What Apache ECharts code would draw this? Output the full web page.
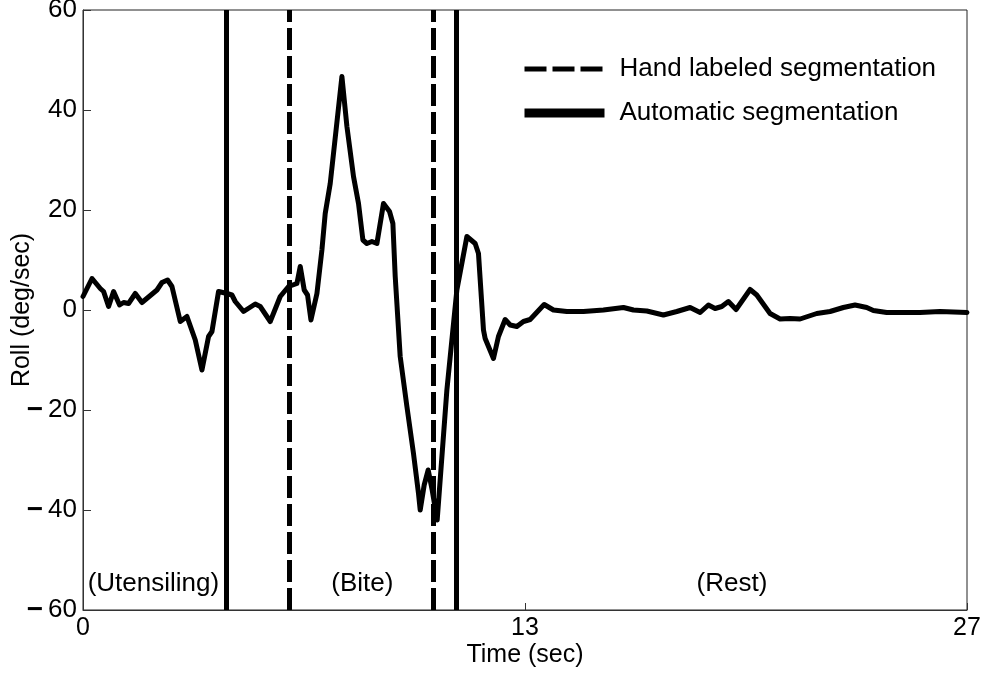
<!DOCTYPE html>
<html>
<head>
<meta charset="utf-8">
<script src="https://cdn.jsdelivr.net/npm/echarts@6/dist/echarts.min.js"></script>
<style>html,body{margin:0;padding:0;background:#fff}#c{width:989px;height:673px}</style>
</head>
<body>
<div id="c"></div>
<script>
// Time (sec) and Roll (deg/sec) samples
const timeSec = [0,0.275,0.528,0.629,0.782,0.934,1.117,1.24,1.392,1.597,1.801,2.259,2.412,2.583,2.717,2.971,3.175,3.429,3.633,3.835,3.939,4.14,4.397,4.549,4.65,4.904,5.261,5.413,5.719,6.024,6.278,6.534,6.635,6.757,6.858,6.962,7.145,7.297,7.398,7.551,7.908,8.061,8.262,8.415,8.549,8.671,8.824,8.977,9.178,9.362,9.465,9.536,9.688,9.893,10.094,10.247,10.299,10.421,10.543,10.665,10.818,11.114,11.419,11.725,11.978,12.079,12.232,12.283,12.537,12.689,12.894,13.047,13.251,13.453,13.657,14.085,14.369,14.778,15.285,15.896,16.506,16.812,17.221,17.728,18.137,18.543,18.849,19.101,19.306,19.51,19.712,19.947,20.375,20.579,20.985,21.291,21.596,21.901,22.411,22.817,23.223,23.58,23.938,24.139,24.548,25.565,26.176,27.0];
const rollDeg = [2.7,6.3,4.3,3.7,0.7,3.7,1.0,1.5,1.3,3.3,1.5,4.0,5.5,6.0,4.7,-2.3,-1.3,-6.0,-12.0,-5.3,-4.3,3.7,3.3,3.0,1.7,-0.3,1.2,0.7,-2.3,2.7,4.7,5.3,8.7,4.0,3.0,-2.0,3.3,12.0,19.3,25.3,46.7,36.7,26.7,21.3,14.0,13.3,13.7,13.3,21.3,19.7,17.3,6.7,-9.3,-19.3,-28.7,-36.7,-40,-35,-32,-36,-42,-16,4,14.7,13.3,11.3,-4,-5.7,-9.7,-5.3,-1.9,-3,-3.3,-2.3,-1.9,1.1,0,-0.3,-0.3,0,0.5,0,-0.2,-1.0,-0.3,0.5,-0.5,1.0,0.3,0.7,1.7,0.1,4.1,3.0,-0.7,-1.8,-1.7,-1.8,-0.7,-0.3,0.5,1.0,0.5,-0.1,-0.5,-0.5,-0.3,-0.5];
const handLabeledX = [6.3, 10.69];
const automaticX = [4.375, 11.4];
const regionNames = ['(Utensiling)', '(Bite)', '(Rest)'];
const regionX = [2.15, 8.53, 19.82];
const regionY = [-54.8, -54.8, -54.8];
const xTickLabels = ['0', '13', '27'];
const yTickLabels = ['\u221260', '\u221240', '\u221220', '0', '20', '40', '60'];

const FONT = "'Liberation Sans', Arial, sans-serif";
const chart = echarts.init(document.getElementById('c'), null, {renderer: 'canvas'});
const curve = timeSec.map((t, i) => [t, rollDeg[i]]);
const regions = regionNames.map((n, i) => [regionX[i], regionY[i], n]);

function yLabel(v) {
  const s = yTickLabels[Math.round((v + 60) / 20)];
  return s.charAt(0) === '\u2212' ? '{m|\u2212}{n|' + s.slice(1) + '}' : '{n|' + s + '}';
}

chart.setOption({
  animation: false,
  backgroundColor: '#fff',
  grid: {left: 83, right: 22, top: 10, bottom: 63, show: true, borderColor: '#222', borderWidth: 1,
    backgroundColor: 'transparent', containLabel: false, outerBoundsMode: 'none'},
  legend: {
    data: [
      {name: 'Hand labeled segmentation', lineStyle: {type: [22, 6], width: 5, color: '#000'},
        itemStyle: {opacity: 0}},
      {name: 'Automatic segmentation', lineStyle: {type: 'solid', width: 9, color: '#000'},
        itemStyle: {opacity: 0}}
    ],
    orient: 'vertical', left: 515, top: 51,
    itemWidth: 80, itemHeight: 20, itemGap: 18,
    textStyle: {fontFamily: FONT, fontSize: 26, color: '#000', padding: [0, 0, 0, 10]},
    selectedMode: false
  },
  xAxis: {
    type: 'value', min: 0, max: 27, interval: 13.5,
    name: 'Time (sec)', nameLocation: 'middle', nameGap: 33, nameMoveOverlap: false,
    nameTextStyle: {fontFamily: FONT, fontSize: 25, color: '#000'},
    axisLine: {show: true, onZero: false, lineStyle: {color: '#333', width: 1}},
    axisTick: {show: true, inside: true, length: 7, lineStyle: {color: '#333'}},
    axisLabel: {fontFamily: FONT, fontSize: 25, color: '#000', margin: 6,
      formatter: v => xTickLabels[Math.round(v / 13.5)]},
    splitLine: {show: false}
  },
  yAxis: {
    type: 'value', min: -60, max: 60, interval: 20,
    name: 'Roll (deg/sec)', nameLocation: 'middle', nameGap: 48, nameMoveOverlap: false,
    nameTextStyle: {fontFamily: FONT, fontSize: 25, color: '#000'},
    axisLine: {show: true, lineStyle: {color: '#333', width: 1}},
    axisTick: {show: true, inside: true, length: 8, lineStyle: {color: '#333'}},
    axisLabel: {fontFamily: FONT, fontSize: 26, color: '#000', margin: 6,
      formatter: yLabel,
      rich: {
        m: {fontFamily: FONT, fontSize: 28, fontWeight: 'bold', color: '#000', padding: [0, 5, 0, 0]},
        n: {fontFamily: FONT, fontSize: 26, color: '#000'}
      }},
    splitLine: {show: false}
  },
  series: [
    {
      name: 'Roll', type: 'line', data: curve, symbol: 'none', z: 5,
      lineStyle: {color: '#000', width: 5, cap: 'round', join: 'round'}, silent: true
    },
    {
      name: 'Hand labeled segmentation', type: 'line', data: [], symbol: 'none',
      lineStyle: {type: [22, 6], width: 5, color: '#000'}, itemStyle: {color: '#000'},
      markLine: {symbol: ['none', 'none'], silent: true, label: {show: false},
        lineStyle: {type: [22, 6], width: 5, color: '#000'},
        data: handLabeledX.map(x => ({xAxis: x}))}
    },
    {
      name: 'Automatic segmentation', type: 'line', data: [], symbol: 'none',
      lineStyle: {type: 'solid', width: 9, color: '#000'}, itemStyle: {color: '#000'},
      markLine: {symbol: ['none', 'none'], silent: true, label: {show: false},
        lineStyle: {type: 'solid', width: 5, color: '#000'},
        data: automaticX.map(x => ({xAxis: x}))}
    },
    {
      name: 'Regions', type: 'scatter', data: regions, symbolSize: 0, silent: true,
      itemStyle: {opacity: 1},
      label: {show: true, position: 'inside', formatter: p => p.data[2],
        fontFamily: FONT, fontSize: 26, color: '#000', opacity: 1}
    }
  ]
});
</script>
</body>
</html>
